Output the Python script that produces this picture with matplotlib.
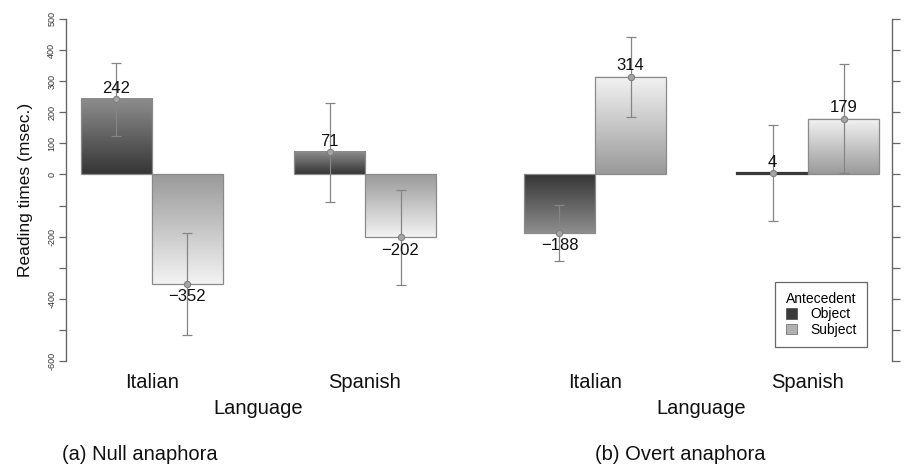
import numpy as np
import matplotlib
matplotlib.use('Agg')
from matplotlib import pyplot as plt
from matplotlib.patches import Rectangle

plt.rcParams['font.family'] = ['Liberation Sans', 'DejaVu Sans']

languages = ['Italian', 'Spanish']
antecedents = ['Object', 'Subject']

# means (msec) per language
null_object = [242, 71]
null_subject = [-352, -202]
null_object_err = [117, 160]
null_subject_err = [165, 152]

overt_object = [-188, 4]
overt_subject = [314, 179]
overt_object_err = [90, 154]
overt_subject_err = [128, 175]

ytick_vals = list(range(-600, 501, 100))
ytick_labels = ['-600', '', '-400', '', '-200', '', '0', '100', '200', '300', '400', '500']

# gradient ends: (near zero, far end)
grad_cols = {'Object': ('#353535', '#8e8e8e'), 'Subject': ('#9a9a9a', '#f3f3f3')}


def hex2rgb(h):
    h = h.lstrip('#')
    return np.array([int(h[i:i + 2], 16) / 255. for i in (0, 2, 4)])


def grad_bar(ax, x0, v, kind):
    c0, c1 = hex2rgb(grad_cols[kind][0]), hex2rgb(grad_cols[kind][1])
    t = np.linspace(0, 1, 128)[:, None]
    img = (c0[None, :] * (1 - t) + c1[None, :] * t)[:, None, :]
    ax.imshow(img, extent=[x0, x0 + 1, 0, v], origin='lower', aspect='auto',
              interpolation='bilinear', zorder=1)
    ec = '#3a3a3a' if abs(v) < 10 else '#8a8a8a'
    lw = 1.6 if abs(v) < 10 else 0.9
    ax.add_patch(Rectangle((x0, 0), 1, v, fill=False, edgecolor=ec, lw=lw, zorder=2))


def panel(ax, obj, subj, obj_err, subj_err, xlim):
    for g in range(len(languages)):
        for j, (vals, errs, kind) in enumerate([(obj, obj_err, 'Object'),
                                                 (subj, subj_err, 'Subject')]):
            x0 = 1 + g * 3 + j
            v = vals[g]
            grad_bar(ax, x0, v, kind)
            xc = x0 + 0.5
            ax.errorbar(xc, v, yerr=errs[g], fmt='none', ecolor='#858585',
                        elinewidth=0.9, capsize=3.5, capthick=0.9, zorder=3)
            ax.plot(xc, v, 'o', ms=4.5, mfc='#a5a5a5', mec='#808080', mew=0.8, zorder=4)
            off = 11 if v >= 0 else -13
            ax.annotate(str(v).replace('-', '\u2212'), (xc, v), xytext=(0, off * 0.72),
                        textcoords='offset points', ha='center', va='center',
                        fontsize=12, color='#111111', zorder=5)
    ax.set_xlim(*xlim)
    ax.set_ylim(-600, 500)
    ax.set_xticks([2, 5])
    ax.set_xticklabels(languages, fontsize=14.5, color='#111111')
    ax.tick_params(axis='x', length=0, pad=9)
    for s in ['top', 'bottom', 'left', 'right']:
        ax.spines[s].set_visible(False)
    ax.set_yticks(ytick_vals)
    ax.set_yticklabels(ytick_labels)


fig = plt.figure(figsize=(9.09, 4.71), dpi=100)
W, H = 909., 471.
bot = 1 - 361 / H
hgt = (361 - 19) / H

ax0 = fig.add_axes([66 / W, bot, 384 / W, hgt])
panel(ax0, null_object, null_subject, null_object_err, null_subject_err, (0.789, 6.197))
ax0.spines['left'].set_visible(True)
ax0.spines['left'].set_color('#666666')
ax0.spines['left'].set_linewidth(1.0)
ax0.tick_params(axis='y', length=5, width=0.9, color='#666666', labelsize=6.5,
                labelcolor='#333333', pad=2)
for lab in ax0.get_yticklabels():
    lab.set_rotation(90)
    lab.set_va('center')
ax0.set_ylabel('Reading times (msec.)', fontsize=12.5, color='#111111', labelpad=10)

ax1 = fig.add_axes([500 / W, bot, 392 / W, hgt])
panel(ax1, overt_object, overt_subject, overt_object_err, overt_subject_err, (0.662, 6.183))
ax1.spines['right'].set_visible(True)
ax1.spines['right'].set_color('#666666')
ax1.spines['right'].set_linewidth(1.0)
ax1.yaxis.tick_right()
ax1.tick_params(axis='y', length=6, width=0.9, color='#666666', labelsize=6.5,
                labelcolor='#555555', pad=7)
for lab in ax1.get_yticklabels():
    lab.set_rotation(90)
    lab.set_va('center')

# legend
handles = [Rectangle((0, 0), 1, 1, fc='#3a3a3a', ec='#555555', lw=0.6),
           Rectangle((0, 0), 1, 1, fc='#b0b0b0', ec='#777777', lw=0.6)]
leg = ax1.legend(handles, antecedents, title='Antecedent', loc='lower right',
                 bbox_to_anchor=(0.955, 0.02), fontsize=10, title_fontsize=10,
                 frameon=True, fancybox=False, edgecolor='#444444',
                 handlelength=0.8, handleheight=0.8, handletextpad=1.0,
                 labelspacing=0.1, borderpad=0.75)
leg.get_frame().set_linewidth(0.9)

fig.text(258 / W, 1 - 408 / H, 'Language', ha='center', va='center', fontsize=14.5, color='#111111')
fig.text(701 / W, 1 - 408 / H, 'Language', ha='center', va='center', fontsize=14.5, color='#111111')
fig.text(140 / W, 1 - 455 / H, '(a) Null anaphora', ha='center', va='center', fontsize=14.5, color='#111111')
fig.text(680 / W, 1 - 455 / H, '(b) Overt anaphora', ha='center', va='center', fontsize=14.5, color='#111111')

fig.savefig('out.png', dpi=100)
